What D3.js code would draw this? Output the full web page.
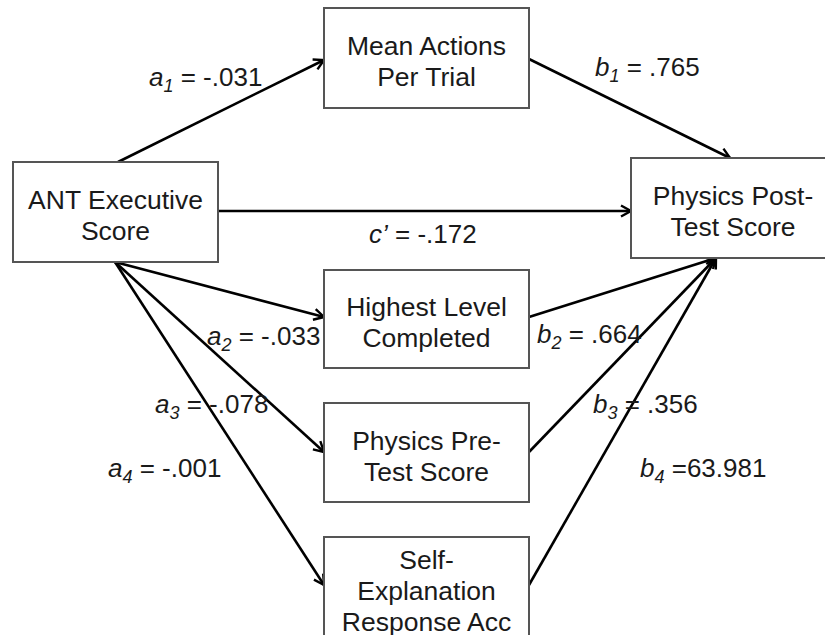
<!DOCTYPE html>
<html>
<head>
<meta charset="utf-8">
<script src="https://cdn.jsdelivr.net/npm/d3@7"></script>
<style>
  body { margin: 0; background: #fff; }
  svg { display: block; }
  text { font-family: "Liberation Sans", Arial, Helvetica, sans-serif; fill: #1a1a1a; }
</style>
</head>
<body>
<script>
// node labels (one line per entry)
var nodeIds = ["ant", "mean", "post", "high", "pre", "self"];
var nodeLines = [
  ["ANT Executive", "Score"],
  ["Mean Actions", "Per Trial"],
  ["Physics Post-", "Test Score"],
  ["Highest Level", "Completed"],
  ["Physics Pre-", "Test Score"],
  ["Self-", "Explanation", "Response Acc"]
];

// paths: from, to, coefficient letter, subscript, value text
var edgeFrom = ["ant", "mean", "ant", "ant", "high", "ant", "pre", "ant", "self"];
var edgeTo   = ["mean", "post", "post", "high", "post", "pre", "post", "self", "post"];
var coefLetter = ["a", "b", "c\u2019", "a", "b", "a", "b", "a", "b"];
var coefSub    = ["1", "1", "", "2", "2", "3", "3", "4", "4"];
var coefValue  = [" = -.031", " = .765", " = -.172", " = -.033", " = .664", " = -.078", " = .356", " = -.001", " =63.981"];

// ---- layout (pixels) ----
var width = 825, height = 635;
var boxW = 205, boxH = 100;
var col = d3.scaleOrdinal().domain(["L", "M", "R"]).range([13, 324, 631]);
var layout = {
  ant:  {col: "L", top: 162, h: 100},
  mean: {col: "M", top: 8,   h: 100},
  post: {col: "R", top: 158, h: 100, w: 204},
  high: {col: "M", top: 270, h: 98},
  pre:  {col: "M", top: 403, h: 99},
  self: {col: "M", top: 537, h: 100}
};
// where each edge leaves / arrives: [side, offset along side]
var edgeAnchors = [
  [["top", 105], ["left", 52]],
  [["right", 51], ["top", 99]],
  [["right", 49], ["left", 53]],
  [["bottom", 102], ["left", 47]],
  [["right", 47], ["bottom", 85]],
  [["bottom", 102], ["left", 49]],
  [["right", 49], ["bottom", 85]],
  [["bottom", 102], ["left", 48]],
  [["right", 48], ["bottom", 85]]
];
var labelPos = [[149, 86], [595, 76], [369, 243], [207, 345], [537, 343], [155, 413], [593, 413], [108, 477], [640, 477]];

var fontSize = 26.5, lineGap = 31;

var svg = d3.select("body").append("svg")
  .attr("width", width)
  .attr("height", height);

var defs = svg.append("defs");
defs.append("marker")
  .attr("id", "arrow")
  .attr("viewBox", "-12 -7 14 14")
  .attr("refX", 0).attr("refY", 0)
  .attr("markerWidth", 14).attr("markerHeight", 14)
  .attr("markerUnits", "userSpaceOnUse")
  .attr("orient", "auto")
  .append("path")
  .attr("d", "M-10,-5.5 L0,0 L-10,5.5")
  .attr("fill", "none")
  .attr("stroke", "#000")
  .attr("stroke-width", 2.4);

function box(id) {
  var l = layout[id];
  return {x: col(l.col), y: l.top, w: l.w || boxW, h: l.h || boxH};
}

function anchor(id, a) {
  var b = box(id), side = a[0], off = a[1];
  if (side == "top") return [b.x + off, b.y];
  if (side == "bottom") return [b.x + off, b.y + b.h];
  if (side == "left") return [b.x, b.y + off];
  return [b.x + b.w, b.y + off];
}

// edges
var edges = edgeFrom.map(function(f, i) {
  return {p0: anchor(f, edgeAnchors[i][0]), p1: anchor(edgeTo[i], edgeAnchors[i][1])};
});

svg.selectAll(".edge")
  .data(edges).enter()
  .append("line")
  .attr("class", "edge")
  .attr("x1", function(d) { return d.p0[0]; })
  .attr("y1", function(d) { return d.p0[1]; })
  .attr("x2", function(d) { return d.p1[0]; })
  .attr("y2", function(d) { return d.p1[1]; })
  .attr("stroke", "#000")
  .attr("stroke-width", 2.6)
  .attr("marker-end", "url(#arrow)");

// boxes
var nodes = svg.selectAll(".node")
  .data(nodeIds).enter()
  .append("g")
  .attr("class", "node");

nodes.append("rect")
  .attr("x", function(d) { return box(d).x; })
  .attr("y", function(d) { return box(d).y; })
  .attr("width", function(d) { return box(d).w; })
  .attr("height", function(d) { return box(d).h; })
  .attr("fill", "#fff")
  .attr("stroke", "#555")
  .attr("stroke-width", 2);

nodes.each(function(d, i) {
  var b = box(d), lines = nodeLines[i];
  var cx = d == "post" ? 733 : b.x + b.w / 2;
  var cy = b.y + b.h / 2 + 3;
  var first = cy - (lines.length - 1) * lineGap / 2 + 9.5;
  d3.select(this).selectAll("text")
    .data(lines).enter()
    .append("text")
    .attr("x", cx)
    .attr("y", function(t, j) { return first + j * lineGap; })
    .attr("text-anchor", "middle")
    .attr("font-size", fontSize)
    .text(function(t) { return t; });
});

// coefficient labels
coefLetter.forEach(function(c, i) {
  var t = svg.append("text")
    .attr("x", labelPos[i][0])
    .attr("y", labelPos[i][1])
    .attr("font-size", 26);
  t.append("tspan").attr("font-style", "italic").text(c);
  if (coefSub[i]) {
    t.append("tspan")
      .attr("font-style", "italic")
      .attr("font-size", 18)
      .attr("dy", 6)
      .text(coefSub[i]);
    t.append("tspan").attr("dy", -6).text(coefValue[i]);
  } else {
    t.append("tspan").text(coefValue[i]);
  }
});
</script>
</body>
</html>
